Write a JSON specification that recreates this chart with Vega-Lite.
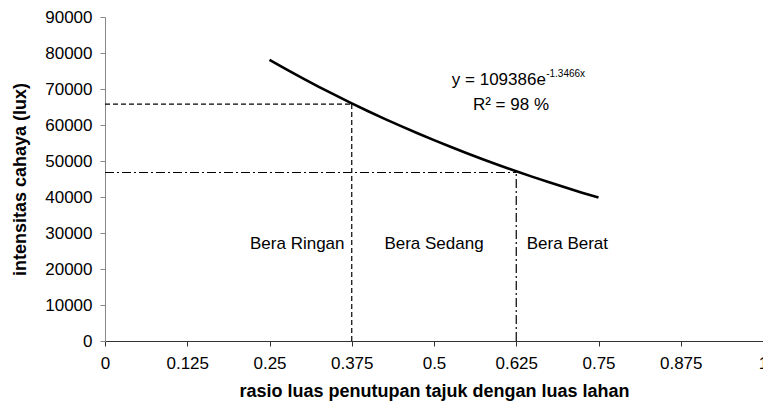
{
  "$schema": "https://vega.github.io/schema/vega-lite/v6.json",
  "width": 658,
  "height": 324,
  "autosize": {"type": "none"},
  "padding": {"left": 105, "top": 17, "right": 0, "bottom": 65},
  "background": "white",
  "config": {
    "view": {"stroke": null},
    "font": "Liberation Sans",
    "axis": {"grid": false, "labelFont": "Liberation Sans", "titleFont": "Liberation Sans", "labelFontSize": 17, "titleFontSize": 18, "labelColor": "#000", "titleColor": "#000", "tickSize": 5, "titleFontWeight": "bold", "labelOverlap": false}
  },
  "datasets": {
    "curve": [
      {"x": 0.25, "y": 78118}, {"x": 0.275, "y": 75532}, {"x": 0.3, "y": 73032}, {"x": 0.325, "y": 70614},
      {"x": 0.35, "y": 68277}, {"x": 0.375, "y": 66017}, {"x": 0.4, "y": 63831}, {"x": 0.425, "y": 61718},
      {"x": 0.45, "y": 59675}, {"x": 0.475, "y": 57699}, {"x": 0.5, "y": 55789}, {"x": 0.525, "y": 53942},
      {"x": 0.55, "y": 52156}, {"x": 0.575, "y": 50429}, {"x": 0.6, "y": 48760}, {"x": 0.625, "y": 47146},
      {"x": 0.65, "y": 45585}, {"x": 0.675, "y": 44076}, {"x": 0.7, "y": 42617}, {"x": 0.725, "y": 41206},
      {"x": 0.75, "y": 39843}
    ]
  },
  "encoding": {
    "x": {
      "field": "x", "type": "quantitative",
      "scale": {"domain": [0, 1], "nice": false},
      "axis": {"values": [0, 0.125, 0.25, 0.375, 0.5, 0.625, 0.75, 0.875, 1], "format": ".3~f", "labelFlush": false, "labelPadding": 9, "domainColor": "#333", "tickColor": "#333", "title": "rasio luas penutupan tajuk dengan luas lahan", "titlePadding": 11}
    },
    "y": {
      "field": "y", "type": "quantitative",
      "scale": {"domain": [0, 90000], "nice": false},
      "axis": {"values": [0, 10000, 20000, 30000, 40000, 50000, 60000, 70000, 80000, 90000], "format": "d", "labelPadding": 8, "domainColor": "#888", "tickColor": "#888", "title": "intensitas cahaya (lux)", "titlePadding": 15}
    }
  },
  "layer": [
    {
      "data": {"values": [
        {"x": 0, "y": 65800, "x2": 0.375, "y2": 65800},
        {"x": 0.375, "y": 0, "x2": 0.375, "y2": 65800}
      ]},
      "mark": {"type": "rule", "color": "#000", "strokeWidth": 1.2, "strokeDash": [5, 3]},
      "encoding": {"x2": {"field": "x2"}, "y2": {"field": "y2"}}
    },
    {
      "data": {"values": [
        {"x": 0, "y": 46800, "x2": 0.625, "y2": 46800},
        {"x": 0.625, "y": 0, "x2": 0.625, "y2": 46800}
      ]},
      "mark": {"type": "rule", "color": "#000", "strokeWidth": 1.2, "strokeDash": [9, 3, 2, 3]},
      "encoding": {"x2": {"field": "x2"}, "y2": {"field": "y2"}}
    },
    {
      "data": {"name": "curve"},
      "mark": {"type": "line", "color": "#000", "strokeWidth": 2.6},
      "encoding": {}
    },
    {
      "data": {"values": [{"t": "Bera Ringan", "x": 0.364, "y": 27000}]},
      "mark": {"type": "text", "align": "right", "baseline": "middle", "fontSize": 17, "color": "#000"},
      "encoding": {"text": {"field": "t"}}
    },
    {
      "data": {"values": [{"t": "Bera Sedang", "x": 0.5, "y": 27000}]},
      "mark": {"type": "text", "align": "center", "baseline": "middle", "fontSize": 17, "color": "#000"},
      "encoding": {"text": {"field": "t"}}
    },
    {
      "data": {"values": [{"t": "Bera Berat", "x": 0.641, "y": 27000}]},
      "mark": {"type": "text", "align": "left", "baseline": "middle", "fontSize": 17, "color": "#000"},
      "encoding": {"text": {"field": "t"}}
    },
    {
      "data": {"values": [{"t": "y = 109386e", "x": 0.67, "y": 71100}]},
      "mark": {"type": "text", "align": "right", "baseline": "alphabetic", "fontSize": 17, "color": "#000"},
      "encoding": {"text": {"field": "t"}}
    },
    {
      "data": {"values": [{"t": "-1.3466x", "x": 0.6705, "y": 73300}]},
      "mark": {"type": "text", "align": "left", "baseline": "alphabetic", "fontSize": 10, "color": "#000"},
      "encoding": {"text": {"field": "t"}}
    },
    {
      "data": {"values": [{"t": "R² = 98 %", "x": 0.617, "y": 64200}]},
      "mark": {"type": "text", "align": "center", "baseline": "alphabetic", "fontSize": 17, "color": "#000"},
      "encoding": {"text": {"field": "t"}}
    }
  ]
}
